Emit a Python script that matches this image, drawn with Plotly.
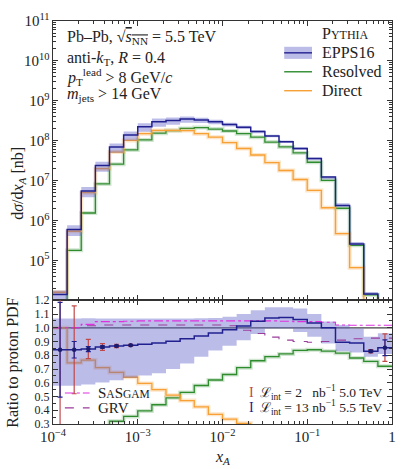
import plotly.graph_objects as go

# bin edges in x_A (6 bins per decade)
XA_EDGES = [1.000e-4, 1.468e-4, 2.154e-4, 3.162e-4, 4.642e-4, 6.813e-4,
            1.000e-3, 1.468e-3, 2.154e-3, 3.162e-3, 4.642e-3, 6.813e-3,
            1.000e-2, 1.468e-2, 2.154e-2, 3.162e-2, 4.642e-2, 6.813e-2,
            1.000e-1, 1.468e-1, 2.154e-1, 3.162e-1, 4.642e-1, 6.813e-1, 1.0]

# dsigma/dx_A [nb]
EPPS16 = [1.4e4, 6.0e5, 5.5e6, 2.4e7, 7.0e7, 1.4e8, 2.26e8, 3.0e8, 3.24e8, 3.5e8, 3.3e8, 3.0e8,
          2.57e8, 2.19e8, 1.7e8, 1.32e8, 9.5e7, 6.4e7, 3.6e7, 1.23e7, 2.4e6, 2.6e5, 1.45e4, 2e3]
RESOLVED = [3e3, 1.8e5, 1.55e6, 8.3e6, 2.6e7, 5.9e7, 1.05e8, 1.55e8, 1.8e8, 2.04e8, 2.14e8, 1.97e8,
            1.76e8, 1.51e8, 1.23e8, 9.3e7, 7.0e7, 4.95e7, 2.9e7, 1.02e7, 2.04e6, 2.4e5, 1.38e4, 2e3]
DIRECT = [1.6e4, 5.4e5, 5.0e6, 2.0e7, 5.2e7, 1.02e8, 1.51e8, 1.82e8, 1.82e8, 1.8e8, 1.51e8, 1.23e8,
          9.0e7, 6.4e7, 4.4e7, 2.85e7, 1.8e7, 1.07e7, 5.7e6, 2.1e6, 4.7e5, 6.6e4, 3e3, 1e3]

# ratio to proton PDF
EPPS_RATIO = [0.84, 0.84, 0.845, 0.86, 0.868, 0.873, 0.88, 0.89, 0.902, 0.92, 0.94, 0.962,
              0.985, 1.013, 1.048, 1.072, 1.075, 1.06, 1.035, 1.0, 0.895, 0.89, 0.83, 0.855]
BAND_LO = [0.578, 0.578, 0.588, 0.602, 0.619, 0.636, 0.652, 0.67, 0.70, 0.74, 0.79, 0.835,
           0.87, 0.91, 0.955, 0.995, 0.995, 0.97, 0.935, 0.885, 0.83, 0.82, 0.79, 0.81]
BAND_HI = [1.067, 1.067, 1.07, 1.068, 1.067, 1.067, 1.067, 1.067, 1.067, 1.068, 1.07, 1.072,
           1.08, 1.10, 1.127, 1.15, 1.15, 1.14, 1.10, 1.045, 1.02, 0.995, 0.935, 0.96]
RESOLVED_RATIO = [0.1, 0.22, 0.25, 0.28, 0.32, 0.355, 0.395, 0.44, 0.49, 0.53, 0.58, 0.62,
                  0.66, 0.71, 0.76, 0.79, 0.81, 0.835, 0.84, 0.83, 0.815, 0.78, 0.755, 0.72]
DIRECT_RATIO = [1.0, 0.745, 0.765, 0.71, 0.675, 0.64, 0.595, 0.55, 0.51, 0.47, 0.425, 0.37,
                0.335, 0.305, 0.275, 0.25, 0.22, 0.2, 0.18, 0.17, 0.16, 0.15, 0.1, 0.1]
SASGAM = [1.0, 1.0, 1.025, 1.045, 1.045, 1.048, 1.05, 1.05, 1.05, 1.05, 1.05, 1.05,
          1.05, 1.05, 1.05, 1.05, 1.048, 1.045, 1.045, 1.04, 1.02, 1.018, 1.018, 1.018]
GRV = [1.0, 1.0, 1.015, 1.02, 1.02, 1.02, 1.02, 1.02, 1.02, 1.02, 1.02, 1.02,
       1.015, 0.982, 0.958, 0.932, 0.91, 0.90, 0.895, 0.90, 0.91, 0.92, 0.925, 0.925]

# projected stat. uncertainties (None = no point shown)
ERR_L2 = [0.88, 0.32, 0.07, 0.025, 0.012, 0.006] + [None] * 16 + [0.012, 0.10]
ERR_L13 = [0.345, 0.06, 0.018, 0.008, 0.004, 0.003] + [None] * 16 + [0.006, 0.057]

C = {
    "epps": "#20208f",
    "band": "rgba(95,95,200,0.42)",
    "green": "#2e8b2e",
    "green_l": "rgba(46,139,46,0.22)",
    "orange": "#f7a035",
    "orange_l": "rgba(247,160,53,0.28)",
    "sasgam": "#e030e0",
    "grv": "#9a3c9a",
    "red": "#c04848",
    "dot": "#1c1c6e",
    "axis": "#333333",
}
FONT = "Liberation Serif"


def step(vals):
    return list(vals) + [vals[-1]]


centers = [(XA_EDGES[i] * XA_EDGES[i + 1]) ** 0.5 for i in range(len(XA_EDGES) - 1)]
top_lo = [v * lo / r for v, lo, r in zip(EPPS16, BAND_LO, EPPS_RATIO)]
top_hi = [v * hi / r for v, hi, r in zip(EPPS16, BAND_HI, EPPS_RATIO)]

fig = go.Figure()


def hist(y, color, width, xa, ya, dash=None):
    fig.add_trace(go.Scatter(x=XA_EDGES, y=step(y), mode="lines", line_shape="hv",
                             line=dict(color=color, width=width, dash=dash),
                             xaxis=xa, yaxis=ya, hoverinfo="skip"))


def band(lo, hi, xa, ya):
    fig.add_trace(go.Scatter(x=XA_EDGES, y=step(lo), mode="lines", line_shape="hv",
                             line=dict(width=0), xaxis=xa, yaxis=ya, hoverinfo="skip"))
    fig.add_trace(go.Scatter(x=XA_EDGES, y=step(hi), mode="lines", line_shape="hv",
                             line=dict(width=0), fill="tonexty", fillcolor=C["band"],
                             xaxis=xa, yaxis=ya, hoverinfo="skip"))


# top panel
hist(RESOLVED, C["green_l"], 4, "x", "y")
hist(RESOLVED, C["green"], 1.3, "x", "y")
hist(DIRECT, C["orange_l"], 4, "x", "y")
hist(DIRECT, C["orange"], 1.3, "x", "y")
band(top_lo, top_hi, "x", "y")
hist(EPPS16, C["epps"], 1.5, "x", "y")

# ratio panel
hist(RESOLVED_RATIO, C["green_l"], 4, "x2", "y2")
hist(RESOLVED_RATIO, C["green"], 1.3, "x2", "y2")
hist(DIRECT_RATIO, C["orange_l"], 4, "x2", "y2")
hist(DIRECT_RATIO, C["orange"], 1.3, "x2", "y2")
band(BAND_LO, BAND_HI, "x2", "y2")
hist(GRV, C["grv"], 1.1, "x2", "y2", dash="dash")
hist(SASGAM, C["sasgam"], 1.1, "x2", "y2", dash="dashdot")
hist(EPPS_RATIO, C["epps"], 1.5, "x2", "y2")

pts = [i for i, e in enumerate(ERR_L2) if e is not None]
fig.add_trace(go.Scatter(
    x=[centers[i] for i in pts], y=[EPPS_RATIO[i] for i in pts], mode="markers",
    marker=dict(size=3, color=C["red"]),
    error_y=dict(type="data", array=[ERR_L2[i] for i in pts], color=C["red"], thickness=1.2, width=2.5),
    xaxis="x2", yaxis="y2", hoverinfo="skip"))
fig.add_trace(go.Scatter(
    x=[centers[i] for i in pts], y=[EPPS_RATIO[i] for i in pts], mode="markers",
    marker=dict(size=4.5, color=C["dot"]),
    error_y=dict(type="data", array=[ERR_L13[i] for i in pts], color=C["epps"], thickness=1.2, width=2.5),
    xaxis="x2", yaxis="y2", hoverinfo="skip"))

ax = dict(showline=True, linecolor=C["axis"], linewidth=1, mirror="allticks", ticks="inside",
          ticklen=5, tickcolor=C["axis"], showgrid=False, zeroline=False,
          tickfont=dict(family=FONT, size=12, color="#222"))

fig.update_layout(
    width=407, height=469,
    margin=dict(l=53, r=11, t=20, b=45),
    paper_bgcolor="white", plot_bgcolor="white",
    showlegend=False,
    font=dict(family=FONT, size=12, color="#222"),
    xaxis=dict(type="log", range=[-4, 0], anchor="y", showticklabels=False, dtick=1,
               minor=dict(ticks="inside", ticklen=3, tickcolor=C["axis"]), **ax),
    yaxis=dict(type="log", range=[4.003, 11.002], domain=[0.307, 1], anchor="x", dtick=1,
               exponentformat="power", minor=dict(ticks="inside", ticklen=3, tickcolor=C["axis"]), **ax),
    xaxis2=dict(type="log", range=[-4, 0], anchor="y2", dtick=1, exponentformat="power",
                minor=dict(ticks="inside", ticklen=3, tickcolor=C["axis"]), **ax),
    yaxis2=dict(range=[0.2999, 1.2001], domain=[0, 0.307], anchor="x2", dtick=0.1, tickformat=".1f",
                minor=dict(ticks="inside", ticklen=3, dtick=0.05, tickcolor=C["axis"]), **ax),
)

fig.add_shape(type="line", xref="x2 domain", x0=0, x1=1, yref="y2", y0=1, y1=1,
              line=dict(color="#444444", width=1.2), layer="below")

ann = []


def txt(x, y, s, size=16, color="#222", xanchor="left", angle=0):
    ann.append(dict(x=x, y=y, xref="paper", yref="paper", text=s, showarrow=False,
                    xanchor=xanchor, yanchor="middle", textangle=angle,
                    font=dict(family=FONT, size=size, color=color)))


txt(0.035, 0.958, "Pb–Pb, √<span style='text-decoration:overline'><i>s</i><sub>NN</sub></span> = 5.5 TeV")
txt(0.035, 0.906, "anti-<i>k</i><sub>T</sub>, <i>R</i> = 0.4")
txt(0.035, 0.861, "<i>p</i><sub>T</sub><sup>lead</sup> > 8 GeV/<i>c</i>")
txt(0.035, 0.817, "<i>m</i><sub>jets</sub> > 14 GeV")

txt(0.787, 0.968, "P<span style='font-size:12px'>YTHIA</span>")
txt(0.787, 0.921, "EPPS16")
txt(0.787, 0.874, "Resolved")
txt(0.787, 0.827, "Direct")

txt(0.128, 0.077, "S<span style='font-size:11.5px'>A</span>S<span style='font-size:11.5px'>GAM</span>", size=15)
txt(0.128, 0.040, "GRV", size=15)

txt(0.586, 0.079, "I", size=14, color=C["red"], xanchor="center")
txt(0.586, 0.040, "I", size=14, color=C["epps"], xanchor="center")
txt(0.605, 0.079, "ℒ<sub>int</sub> = 2   nb<sup>−1</sup> 5.0 TeV", size=13.5)
txt(0.605, 0.040, "ℒ<sub>int</sub> = 13 nb<sup>−1</sup> 5.5 TeV", size=13.5)

txt(-0.102, 0.597, "d<i>σ</i>/d<i>x</i><sub><i>A</i></sub> [nb]", size=16, xanchor="center", angle=-90)
txt(-0.117, 0.153, "Ratio to proton PDF", size=16, xanchor="center", angle=-90)
txt(0.501, -0.082, "<i>x</i><sub><i>A</i></sub>", size=16, xanchor="center")
fig.update_layout(annotations=ann)

# legend samples
fig.add_shape(type="rect", xref="paper", yref="paper", x0=0.682, x1=0.764, y0=0.906, y1=0.936,
              fillcolor=C["band"], line=dict(width=0))
for yy, col in [(0.921, C["epps"]), (0.874, C["green"]), (0.827, C["orange"])]:
    fig.add_shape(type="line", xref="paper", yref="paper", x0=0.682, x1=0.764, y0=yy, y1=yy,
                  line=dict(color=col, width=1.4))
fig.add_shape(type="line", xref="paper", yref="paper", x0=0.035, x1=0.108, y0=0.077, y1=0.077,
              line=dict(color=C["sasgam"], width=1.1, dash="dashdot"))
fig.add_shape(type="line", xref="paper", yref="paper", x0=0.035, x1=0.108, y0=0.040, y1=0.040,
              line=dict(color=C["grv"], width=1.1, dash="dash"))

fig.write_html("out.html", config={"displayModeBar": False},
               post_script="document.body.style.margin='0';")
